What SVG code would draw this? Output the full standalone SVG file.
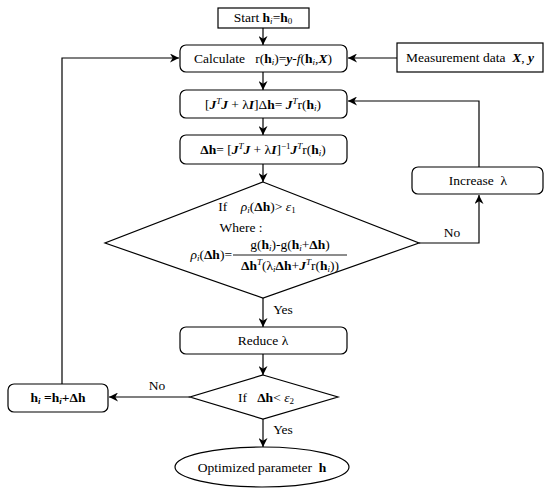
<svg xmlns="http://www.w3.org/2000/svg" width="550" height="493" viewBox="0 0 550 493">
<style>
.box{fill:#fff;stroke:#000;stroke-width:1.2}
.ln{fill:none;stroke:#000;stroke-width:1.2}
text{font-family:'Liberation Serif','Times New Roman',serif;font-size:13.5px;fill:#000}
.c{text-anchor:middle}
.e{text-anchor:end}
.b{font-weight:bold}
.i{font-style:italic}
.bi{font-weight:bold;font-style:italic}
</style>
<defs>
<marker id="ar" viewBox="0 0 10 10" refX="10" refY="5" markerWidth="9" markerHeight="9" markerUnits="userSpaceOnUse" orient="auto">
<path d="M0,0 L10,5 L0,10 L3,5 z" fill="#000"/>
</marker>
</defs>
<g id="connectors">
<line class="ln" x1="263" y1="28" x2="263" y2="45" marker-end="url(#ar)"/>
<line class="ln" x1="397" y1="58" x2="348" y2="58" marker-end="url(#ar)"/>
<line class="ln" x1="263" y1="72" x2="263" y2="90" marker-end="url(#ar)"/>
<line class="ln" x1="263" y1="118" x2="263" y2="135" marker-end="url(#ar)"/>
<line class="ln" x1="263" y1="164" x2="263" y2="182" marker-end="url(#ar)"/>
<polyline class="ln" points="419,243 479,243 479,195" marker-end="url(#ar)"/>
<polyline class="ln" points="479,167 479,101 348,101" marker-end="url(#ar)"/>
<line class="ln" x1="263" y1="298" x2="263" y2="327" marker-end="url(#ar)"/>
<line class="ln" x1="263" y1="354" x2="263" y2="375" marker-end="url(#ar)"/>
<line class="ln" x1="263" y1="419" x2="263" y2="447" marker-end="url(#ar)"/>
<line class="ln" x1="190" y1="397" x2="109" y2="397" marker-end="url(#ar)"/>
<polyline class="ln" points="62,384 62,58 179,58" marker-end="url(#ar)"/>
<text x="452" y="237" class="c">No</text>
<text x="283" y="314" class="c">Yes</text>
<text x="157" y="390" class="c">No</text>
<text x="283" y="434" class="c">Yes</text>
</g>
<g id="start">
<rect class="box" x="218" y="8" width="91" height="20"/>
<text x="263" y="22" class="c">Start&#160;<tspan class="b">h</tspan><tspan font-size="9" font-style="italic" dy="2">i</tspan><tspan dy="-2">=</tspan><tspan class="b">h</tspan><tspan font-size="9" dy="2">0</tspan></text>
</g>
<g id="calc">
<rect class="box" x="180" y="45" width="167" height="27" rx="6"/>
<text x="263" y="63" class="c">Calculate&#160;&#160; r(<tspan class="b">h</tspan><tspan font-size="9" font-style="italic" dy="2">i</tspan><tspan dy="-2">)=</tspan><tspan class="bi">y</tspan>-<tspan class="i">f</tspan>(<tspan class="b">h</tspan><tspan font-size="9" font-style="italic" dy="2">i</tspan><tspan dy="-2">,</tspan><tspan class="bi">X</tspan>)</text>
</g>
<g id="measure">
<rect class="box" x="397" y="43" width="146" height="29"/>
<text x="470" y="62" class="c">Measurement data&#160; <tspan class="bi">X</tspan>,&#160;<tspan class="bi">y</tspan></text>
</g>
<g id="solve">
<rect class="box" x="180" y="90" width="167" height="28" rx="6"/>
<text x="263" y="109" class="c">[<tspan class="bi">J</tspan><tspan class="i" font-size="9" dy="-5">T</tspan><tspan class="bi" dy="5">J</tspan> + λ<tspan class="bi">I</tspan>]Δ<tspan class="b">h</tspan>=&#160;<tspan class="bi">J</tspan><tspan class="i" font-size="9" dy="-5">T</tspan><tspan dy="5">r(</tspan><tspan class="b">h</tspan><tspan font-size="9" font-style="italic" dy="2">i</tspan><tspan dy="-2">)</tspan></text>
</g>
<g id="delta">
<rect class="box" x="180" y="135" width="167" height="29" rx="6"/>
<text x="263" y="154" class="c"><tspan class="b">Δh</tspan>=&#160;[<tspan class="bi">J</tspan><tspan class="i" font-size="9" dy="-5">T</tspan><tspan class="bi" dy="5">J</tspan> + λ<tspan class="bi">I</tspan>]<tspan font-size="9" dy="-5">−1</tspan><tspan class="bi" dy="5">J</tspan><tspan class="i" font-size="9" dy="-5">T</tspan><tspan dy="5">r(</tspan><tspan class="b">h</tspan><tspan font-size="9" font-style="italic" dy="2">i</tspan><tspan dy="-2">)</tspan></text>
</g>
<g id="decision1">
<polygon class="box" points="263,182 419,243 263,298 105,243"/>
<text x="257" y="211" class="c">If&#160;&#160;&#160; <tspan class="i">ρ</tspan><tspan class="i" font-size="9" dy="2">i</tspan><tspan dy="-2">(</tspan><tspan class="b">Δh</tspan>)&gt;&#160;<tspan class="i">ε</tspan><tspan font-size="9" dy="2">1</tspan></text>
<text x="241" y="232" class="c">Where :</text>
<text x="232" y="259" class="e"><tspan class="i">ρ</tspan><tspan class="i" font-size="9" dy="2">i</tspan><tspan dy="-2">(</tspan><tspan class="b">Δh</tspan>)=</text>
<text x="290" y="249" class="c">g(<tspan class="b">h</tspan><tspan font-size="9" font-style="italic" dy="2">i</tspan><tspan dy="-2">)-g(</tspan><tspan class="b">h</tspan><tspan font-size="9" font-style="italic" dy="2">i</tspan><tspan dy="-2">+</tspan><tspan class="b">Δh</tspan>)</text>
<line x1="233" y1="255" x2="347" y2="255" stroke="#000" stroke-width="0.9"/>
<text x="290" y="270" class="c"><tspan class="b">Δh</tspan><tspan class="i" font-size="9" dy="-5">T</tspan><tspan dy="5">(λ</tspan><tspan class="i" font-size="9" dy="2">i</tspan><tspan class="b" dy="-2">Δh</tspan>+<tspan class="bi">J</tspan><tspan class="i" font-size="9" dy="-5">T</tspan><tspan dy="5">r(</tspan><tspan class="b">h</tspan><tspan font-size="9" font-style="italic" dy="2">i</tspan><tspan dy="-2">))</tspan></text>
</g>
<g id="increase">
<rect class="box" x="412" y="167" width="131" height="27" rx="6"/>
<text x="478" y="185" class="c">Increase&#160; λ</text>
</g>
<g id="reduce">
<rect class="box" x="180" y="327" width="167" height="27" rx="6"/>
<text x="263" y="345" class="c">Reduce λ</text>
</g>
<g id="decision2">
<polygon class="box" points="263,375 338,397 263,419 190,397"/>
<text x="266" y="402" class="c">If&#160;&#160;&#160;<tspan class="b">Δh</tspan>&lt;&#160;<tspan class="i">ε</tspan><tspan font-size="9" dy="2">2</tspan></text>
</g>
<g id="update">
<rect class="box" x="8" y="384" width="100" height="28" rx="6"/>
<text x="58" y="402" class="c"><tspan class="b">h</tspan><tspan class="b" font-style="italic" font-size="9" dy="2">i</tspan><tspan class="b" dy="-2">&#160;=h</tspan><tspan class="b" font-style="italic" font-size="9" dy="2">i</tspan><tspan class="b" dy="-2">+Δh</tspan></text>
</g>
<g id="result">
<ellipse class="box" cx="262" cy="467" rx="87" ry="20"/>
<text x="262" y="472" class="c">Optimized parameter&#160; <tspan class="b">h</tspan></text>
</g>
</svg>
